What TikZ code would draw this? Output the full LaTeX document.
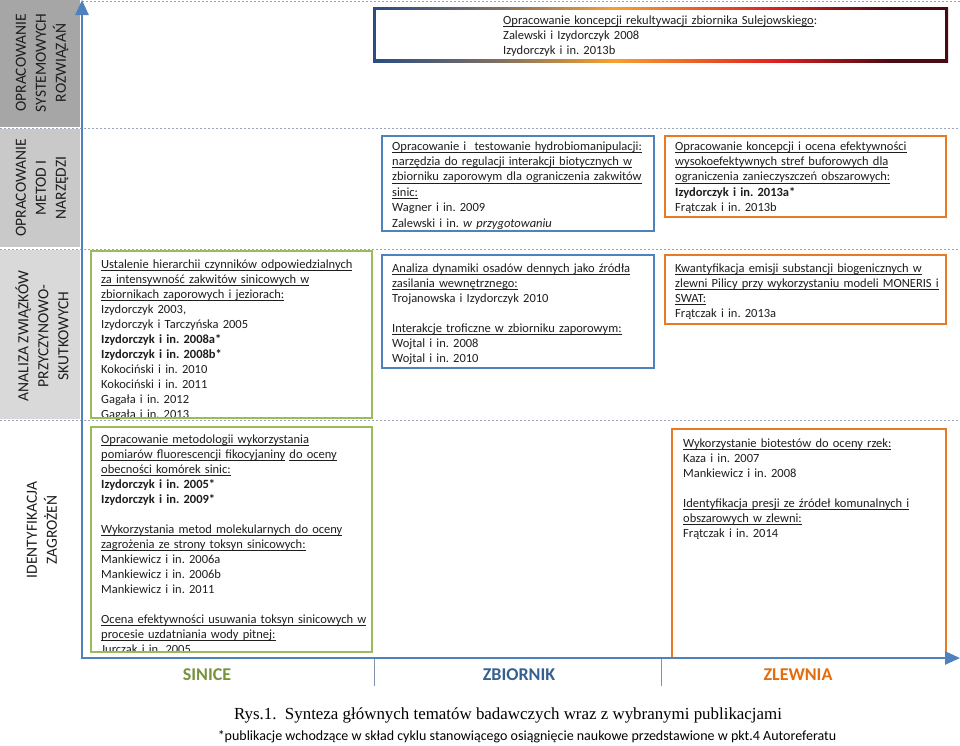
\documentclass[tikz,border=0pt]{standalone}
\usepackage{fontspec}
\setmainfont{Carlito}
\newfontfamily\timesf{Liberation Serif}
\usetikzlibrary{arrows.meta}
\definecolor{axblue}{HTML}{4F81BD}
\definecolor{bxgreen}{HTML}{9BBB59}
\definecolor{bxblue}{HTML}{4F81BD}
\definecolor{bxorange}{HTML}{E87A25}
\definecolor{lbgreen}{HTML}{77933C}
\definecolor{lbblue}{HTML}{376092}
\definecolor{lborange}{HTML}{E46C0A}
\definecolor{bandA}{HTML}{A6A6A6}
\definecolor{bandB}{HTML}{C9C9C9}
\definecolor{bandC}{HTML}{D9D9D9}
\definecolor{dotgray}{HTML}{9AA3B5}
\definecolor{sepgray}{HTML}{7F93AE}
\definecolor{txtcol}{HTML}{1E1E1E}
\definecolor{gA}{HTML}{2A4C85}
\definecolor{gB}{HTML}{7F7060}
\definecolor{gC}{HTML}{F7A030}
\definecolor{gD}{HTML}{E02020}
\definecolor{gE}{HTML}{4A0A12}
\pgfdeclarehorizontalshading{topgrad}{100bp}{color(0bp)=(gA); color(25bp)=(gA); color(36bp)=(gB); color(46bp)=(gC); color(60bp)=(gD); color(70bp)=(gE); color(100bp)=(gE)}
\newcommand\uln[1]{\leavevmode\setbox0\hbox{#1}\rlap{\rule[-2.3pt]{\wd0}{0.6pt}}\box0\relax}
\frenchspacing
\begin{document}
\begin{tikzpicture}[x=1pt,y=-1pt,
  txt/.style={anchor=base west, align=left, inner sep=0pt, text width=330pt, text=txtcol, font=\fontsize{12.5}{15}\selectfont},
  txtb/.style={txt, font=\fontsize{12.5}{15.4}\selectfont},
  vlab/.style={rotate=90, align=center, inner sep=0pt, text=txtcol, font=\fontsize{15.5}{20}\selectfont},
  axlab/.style={anchor=base, inner sep=0pt, font=\bfseries\fontsize{18}{20}\selectfont},
  boxline/.style={line width=2.5pt},
  dotline/.style={dotgray, line width=0.8pt, dash pattern=on 2pt off 2pt},
  axisline/.style={axblue, line width=2.5pt, -{Triangle[width=13pt,length=15pt]}}
]
\useasboundingbox (0,0) rectangle (960,745);
\fill[white] (0,0) rectangle (960,745);
% bands
\fill[bandA] (0,0) rectangle (80,127);
\fill[bandB] (0,129) rectangle (80,247);
\fill[bandC] (0,250) rectangle (80,419);
% dotted separators
\draw[dotline] (82,1.5) -- (960,1.5);
\foreach \yy in {128,249,420} \draw[dotline] (0,\yy) -- (960,\yy);
% row labels
\node[vlab] (l1) at (42,63) {OPRACOWANIE\\SYSTEMOWYCH\\ROZWIĄZAŃ};
\node[vlab] (l2) at (42,188) {OPRACOWANIE\\METOD I\\NARZĘDZI};
\node[vlab] (l3) at (42,336) {ANALIZA ZWIĄZKÓW\\PRZYCZYNOWO-\\SKUTKOWYCH};
\node[vlab] (l4) at (42,530) {IDENTYFIKACJA\\ZAGROŻEŃ};
% top gradient box
\shade[shading=topgrad] (373,7) rectangle (948,62);
\fill[white] (376,10) rectangle (945,59);
\node[txt] (t1) at (503,24) {\uln{Opracowanie koncepcji rekultywacji zbiornika Sulejowskiego}:\\
Zalewski i Izydorczyk 2008\\
Izydorczyk i in. 2013b};
% row 2
\node[txtb] (t2b) at (392,150) {\uln{Opracowanie i\ \ testowanie hydrobiomanipulacji:}\\
\uln{narzędzia do regulacji interakcji biotycznych w}\\
\uln{zbiorniku zaporowym dla ograniczenia zakwitów}\\
\uln{sinic:}\\
Wagner i in. 2009\\
Zalewski i in. \textit{w przygotowaniu}};
\node[txtb] (t2o) at (675,150) {\uln{Opracowanie koncepcji i ocena efektywności}\\
\uln{wysokoefektywnych stref buforowych dla}\\
\uln{ograniczenia zanieczyszczeń obszarowych:}\\
\textbf{Izydorczyk i in. 2013a*}\\
Frątczak i in. 2013b};
% row 3
\node[txt] (t3g) at (101,268) {\uln{Ustalenie hierarchii czynników odpowiedzialnych}\\
\uln{za intensywność zakwitów sinicowych w}\\
\uln{zbiornikach zaporowych i jeziorach:}\\
Izydorczyk 2003,\\
Izydorczyk i Tarczyńska 2005\\
\textbf{Izydorczyk i in. 2008a*}\\
\textbf{Izydorczyk i in. 2008b*}\\
Kokociński i in. 2010\\
Kokociński i in. 2011\\
Gagała i in. 2012\\
Gagała i in. 2013};
\node[txt] (t3b) at (392,272) {\uln{Analiza dynamiki osadów dennych jako źródła}\\
\uln{zasilania wewnętrznego:}\\
Trojanowska i Izydorczyk 2010\\[15pt]
\uln{Interakcje troficzne w zbiorniku zaporowym:}\\
Wojtal i in. 2008\\
Wojtal i in. 2010};
\node[txt] (t3o) at (675,272) {\uln{Kwantyfikacja emisji substancji biogenicznych w}\\
\uln{zlewni Pilicy przy wykorzystaniu modeli MONERIS i}\\
\uln{SWAT:}\\
Frątczak i in. 2013a};
% row 4
\node[txt] (t4g) at (101,443) {\uln{Opracowanie metodologii wykorzystania}\\
\uln{pomiarów fluorescencji fikocyjaniny} \uln{do oceny}\\
\uln{obecności komórek sinic:}\\
\textbf{Izydorczyk i in. 2005*}\\
\textbf{Izydorczyk i in. 2009*}\\[15pt]
\uln{Wykorzystania metod molekularnych do oceny}\\
\uln{zagrożenia ze strony toksyn sinicowych:}\\
Mankiewicz i in. 2006a\\
Mankiewicz i in. 2006b\\
Mankiewicz i in. 2011\\[15pt]
\uln{Ocena efektywności usuwania toksyn sinicowych w}\\
\uln{procesie uzdatniania wody pitnej:}\\
Jurczak i in. 2005};
\node[txt] (t4o) at (683,447) {\uln{Wykorzystanie biotestów do oceny rzek:}\\
Kaza i in. 2007\\
Mankiewicz i in. 2008\\[15pt]
\uln{Identyfikacja presji ze źródeł komunalnych i}\\
\uln{obszarowych w zlewni:}\\
Frątczak i in. 2014};
% boxes
\draw[boxline, bxblue] (382,136) rectangle (654,231);
\draw[boxline, bxorange] (665,136) rectangle (946,217);
\draw[boxline, bxgreen] (91,251) rectangle (372,418);
\draw[boxline, bxblue] (382,255) rectangle (654,368);
\draw[boxline, bxorange] (665,255) rectangle (946,324);
\draw[boxline, bxgreen] (91,427) rectangle (372,652);
\draw[boxline, bxorange] (672,429) rectangle (946,658);
% separators under axis
\coordinate (s1a) at (374,658); \coordinate (s1b) at (374,686);
\coordinate (s2a) at (661,658); \coordinate (s2b) at (661,686);
\draw[sepgray, line width=0.8pt] (s1a) -- (s1b);
\draw[sepgray, line width=0.8pt] (s2a) -- (s2b);
% axes
\coordinate (o) at (82,658);
\coordinate (ytop) at (82,0);
\coordinate (xend) at (960,658);
\draw[axisline] (82,659.25) -- (ytop);
\draw[axisline] (80.75,658) -- (xend);
% axis labels
\node[axlab, text=lbgreen] (ls) at (207,680) {SINICE};
\node[axlab, text=lbblue] (lz) at (519,680) {ZBIORNIK};
\node[axlab, text=lborange] (lw) at (798,680) {ZLEWNIA};
% caption
\node[anchor=base, inner sep=0pt, font=\timesf\fontsize{16.9}{18}\selectfont] (cap) at (508,719) {Rys.1.\ \ Synteza głównych tematów badawczych wraz z wybranymi publikacjami};
\node[anchor=base, inner sep=0pt, font=\fontsize{14}{15}\selectfont] (fn) at (527,740) {*publikacje wchodzące w skład cyklu stanowiącego osiągnięcie naukowe przedstawione w pkt.4 Autoreferatu};
\end{tikzpicture}
\end{document}
